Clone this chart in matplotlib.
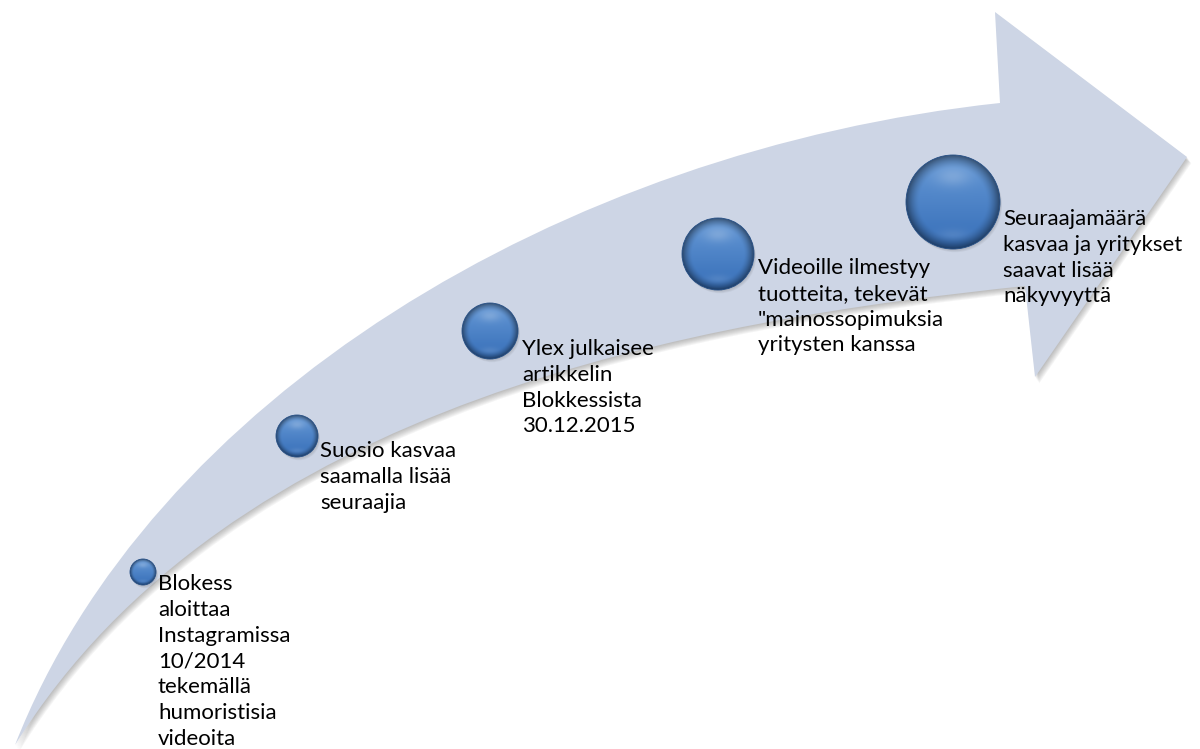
import numpy as np
import matplotlib
matplotlib.use("Agg")
import matplotlib.pyplot as plt
from matplotlib.path import Path
from matplotlib.patches import PathPatch, Circle
import matplotlib.transforms as mtransforms

# milestone texts, one list of lines per step
labels = [
    ["Blokess", "aloittaa", "Instagramissa", "10/2014", "tekemällä", "humoristisia", "videoita"],
    ["Suosio kasvaa", "saamalla lisää", "seuraajia"],
    ["Ylex julkaisee", "artikkelin", "Blokkessista", "30.12.2015"],
    ["Videoille ilmestyy", "tuotteita, tekevät", "\"mainossopimuksia", "yritysten kanssa"],
    ["Seuraajamäärä", "kasvaa ja yritykset", "saavat lisää", "näkyvyyttä"],
]

# layout (pixel coords, y down)
bead_x = [143, 297, 490, 718, 953]
bead_y = [572, 436, 331, 254, 202]
bead_r = [13, 21, 28, 36, 47]
text_x = [158, 320, 522, 758, 1003]
text_base = [590, 457, 355, 274, 225]
line_step = 25.8

# arrow outline: tail, upper curve, head, lower curve
upper = [(15, 745), (150, 400), (560, 150), (1000, 103)]
head = [(995, 12), (1187, 157), (1035, 377), (1025, 286)]
lower = [(700, 320), (230, 400), (15, 745)]

W, H = 1200, 749
fig = plt.figure(figsize=(W / 100, H / 100), dpi=100)
ax = fig.add_axes([0, 0, 1, 1])
ax.set_xlim(0, W)
ax.set_ylim(H, 0)
ax.axis("off")

verts = upper + head + lower + [upper[0]]
codes = ([Path.MOVETO] + [Path.CURVE4] * 3 + [Path.LINETO] * 4
         + [Path.CURVE4] * 3 + [Path.CLOSEPOLY])
arrow = Path(verts, codes)

# soft shadow under the arrow
for k in range(1, 8):
    tr = mtransforms.Affine2D().translate(k * 0.6, k * 0.9) + ax.transData
    ax.add_patch(PathPatch(arrow, facecolor="#505050", edgecolor="none",
                           alpha=0.06, transform=tr, zorder=1))
ax.add_patch(PathPatch(arrow, facecolor="#CDD5E5", edgecolor="none", zorder=2))


def bead_image(n=128):
    u, v = np.meshgrid(np.linspace(-1, 1, n), np.linspace(-1, 1, n))
    d = np.sqrt(u ** 2 + v ** 2)
    top = np.array([0.40, 0.60, 0.84])
    bot = np.array([0.21, 0.43, 0.72])
    t = np.clip((v + 1) / 2, 0, 1)[..., None]
    rgb = top * (1 - t) + bot * t
    # darker rim
    rim = np.clip((d - 0.72) / 0.28, 0, 1)[..., None]
    rgb = rgb * (1 - 0.45 * rim ** 1.5)
    # glossy highlight near top
    hl = np.exp(-(((u) / 0.55) ** 2 + ((v + 0.55) / 0.3) ** 2) * 2.0)[..., None]
    rgb = rgb + (1 - rgb) * 0.2 * hl
    # faint reflected light near bottom
    bl = np.exp(-(((u) / 0.5) ** 2 + ((v - 0.7) / 0.18) ** 2) * 2.0)[..., None]
    rgb = rgb + (1 - rgb) * 0.1 * bl
    return np.clip(rgb, 0, 1)


img = bead_image()
for cx, cy, r in zip(bead_x, bead_y, bead_r):
    for k in range(1, 5):
        ax.add_patch(Circle((cx + 0.5 * k, cy + 0.8 * k), r, facecolor="#404040",
                            edgecolor="none", alpha=0.06, zorder=3))
    clip = Circle((cx, cy), r, transform=ax.transData)
    im = ax.imshow(img, extent=[cx - r, cx + r, cy + r, cy - r], origin="upper",
                   interpolation="bilinear", zorder=4)
    im.set_clip_path(clip)
    ax.add_patch(Circle((cx, cy), r, facecolor="none", edgecolor="#254F86",
                        linewidth=0.6, zorder=5))

ax.set_xlim(0, W)
ax.set_ylim(H, 0)

for lines, x0, y0 in zip(labels, text_x, text_base):
    for i, line in enumerate(lines):
        ax.text(x0, y0 + i * line_step, line, ha="left", va="baseline",
                fontsize=16, family=["Lato", "DejaVu Sans"], color="#000000",
                zorder=6)

fig.savefig("out.png", dpi=100, facecolor="white")
